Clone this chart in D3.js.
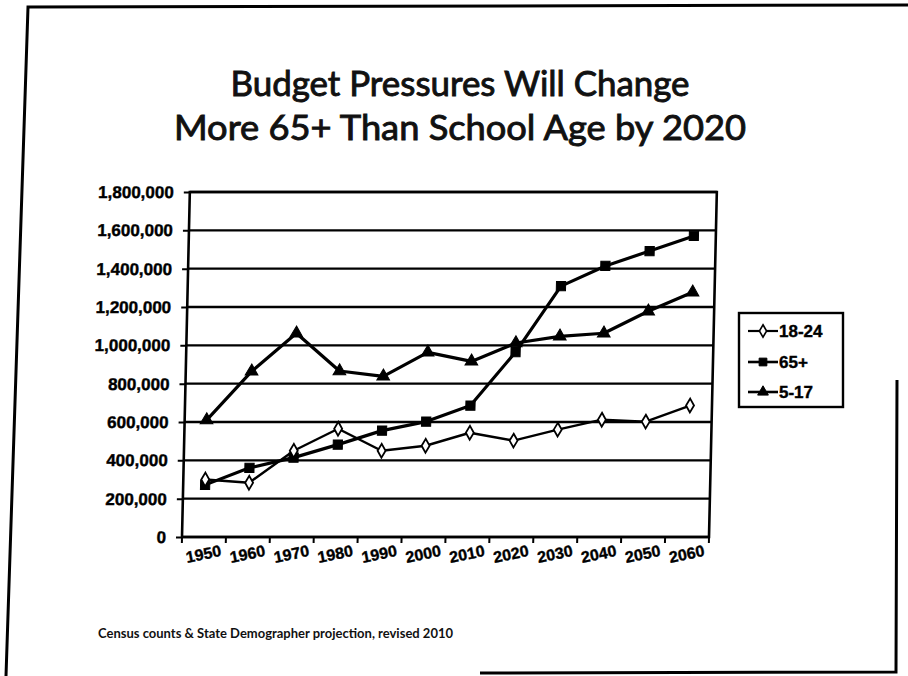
<!DOCTYPE html>
<html><head><meta charset="utf-8">
<script src="https://cdn.jsdelivr.net/npm/d3@7"></script>
<style>body{margin:0;background:#fff}</style>
</head><body>
<svg id="c" width="908" height="676"></svg>
<script>
const years = ["1950","1960","1970","1980","1990","2000","2010","2020","2030","2040","2050","2060"];
const age18_24 = [300000,283000,450000,565000,450000,476000,544000,503000,560000,612000,602000,686000];
const age65plus = [272000,361000,414000,482000,555000,602000,686000,965000,1309000,1414000,1492000,1571000];
const age5_17 = [610000,864000,1063000,866000,838000,963000,916000,1012000,1047000,1063000,1178000,1277000];
const yTicks = [0,200000,400000,600000,800000,1000000,1200000,1400000,1600000,1800000];
const seriesNames = ["18-24","65+","5-17"];
const titleLines = ["Budget Pressures Will Change","More 65+ Than School Age by 2020"];
const footnote = "Census counts & State Demographer projection, revised 2010";

const svg = d3.select("#c");
svg.append("rect").attr("width",908).attr("height",676).attr("fill","#fff");

// page frame (scanned)
const frame = svg.append("g").attr("stroke","#000").attr("stroke-width",3).attr("fill","none");
frame.append("path").attr("d","M6,676 L28,7 L908,5");
frame.append("path").attr("d","M897,380 L896,672 L480,673");

// title
svg.selectAll("text.title").data(titleLines).join("text")
  .attr("class","title")
  .attr("x",460).attr("y",(d,i)=>i===0?96:140)
  .attr("text-anchor","middle")
  .attr("font-family","Lato, 'Open Sans', sans-serif")
  .attr("font-size",34)
  .attr("fill","#111").attr("stroke","#111").attr("stroke-width",0.9)
  .attr("textLength",(d,i)=>i===0?459:572)
  .attr("lengthAdjust","spacingAndGlyphs")
  .text(d=>d);

// footnote
svg.append("text").attr("x",98).attr("y",638)
  .attr("font-family","Lato, 'Open Sans', sans-serif").attr("font-weight","bold")
  .attr("font-size",13).attr("fill","#111")
  .attr("textLength",355).attr("lengthAdjust","spacingAndGlyphs")
  .text(footnote);

const y0 = 537;
const g = svg.append("g").attr("transform",`translate(0,${y0}) skewX(-1.3) translate(0,${-y0})`);

const x = d3.scaleBand().domain(years).range([182,709]).paddingInner(0).paddingOuter(0);
const y = d3.scaleLinear().domain([0,1800000]).range([537,192]);
const [xl,xr] = x.range();

// gridlines
g.append("g").selectAll("line").data(yTicks).join("line")
  .attr("x1",xl).attr("x2",xr).attr("y1",d=>y(d)).attr("y2",d=>y(d))
  .attr("stroke","#000").attr("stroke-width",2.4);

// plot frame
g.append("rect").attr("x",xl).attr("y",y(1800000)).attr("width",xr-xl).attr("height",y(0)-y(1800000))
  .attr("fill","none").attr("stroke","#000").attr("stroke-width",2.6);

// y axis
const yAxis = g.append("g").attr("transform",`translate(${xl},0)`)
  .call(d3.axisLeft(y).tickValues(yTicks).tickSize(6).tickPadding(10).tickFormat(d3.format(",")));
yAxis.select(".domain").remove();
yAxis.selectAll(".tick line").attr("stroke","#000").attr("stroke-width",2);
yAxis.selectAll(".tick text").attr("font-family","'Liberation Sans', Arial, sans-serif")
  .attr("font-weight","bold").attr("font-size",17).attr("fill","#000")
  .attr("stroke","#000").attr("stroke-width",0.4);

// x axis ticks at category boundaries
const bounds = d3.range(years.length+1).map(i=>xl+i*x.step());
g.append("g").selectAll("line").data(bounds).join("line")
  .attr("x1",d=>d).attr("x2",d=>d).attr("y1",y(0)).attr("y2",y(0)+6)
  .attr("stroke","#000").attr("stroke-width",2);
g.append("g").selectAll("text").data(years).join("text")
  .attr("transform",d=>`translate(${x(d)+x.bandwidth()/2},${y(0)+17}) rotate(-12)`)
  .attr("text-anchor","middle").attr("dominant-baseline","central")
  .attr("font-family","'Liberation Sans', Arial, sans-serif").attr("font-weight","bold")
  .attr("font-size",16).attr("fill","#000").attr("stroke","#000").attr("stroke-width",0.4)
  .text(d=>d);

const cx = d => x(d)+x.bandwidth()/2;
const line = d3.line().x(d=>cx(d.year)).y(d=>y(d.v));
const mk = arr => years.map((yr,i)=>({year:yr,v:arr[i]}));

const series = [
  {name:seriesNames[1], data:mk(age65plus), sym:d3.symbolSquare, size:85, fill:"#000", w:3.2},
  {name:seriesNames[2], data:mk(age5_17), sym:d3.symbolTriangle, size:70, fill:"#000", w:3.2},
  {name:seriesNames[0], data:mk(age18_24), sym:d3.symbolDiamond, size:55, fill:"#fff", w:2.4}
];

series.forEach(s=>{
  g.append("path").datum(s.data).attr("d",line).attr("fill","none")
    .attr("stroke","#000").attr("stroke-width",s.w).attr("stroke-linejoin","round");
  g.append("g").selectAll("path").data(s.data).join("path")
    .attr("transform",d=>`translate(${cx(d.year)},${y(d.v)})`)
    .attr("d",d3.symbol().type(s.sym).size(s.size))
    .attr("fill",s.fill).attr("stroke","#000").attr("stroke-width",s.fill==="#fff"?1.8:1);
});

// legend
const lg = svg.append("g");
lg.append("rect").attr("x",739).attr("y",313).attr("width",104).attr("height",94)
  .attr("fill","#fff").attr("stroke","#000").attr("stroke-width",2.4);
const legendItems = [
  {name:seriesNames[0], sym:d3.symbolDiamond, size:45, fill:"#fff", w:2.2},
  {name:seriesNames[1], sym:d3.symbolSquare, size:60, fill:"#000", w:2.6},
  {name:seriesNames[2], sym:d3.symbolTriangle, size:50, fill:"#000", w:2.6}
];
const ly = [331,362,392];
legendItems.forEach((it,i)=>{
  lg.append("line").attr("x1",748).attr("x2",778).attr("y1",ly[i]).attr("y2",ly[i])
    .attr("stroke","#000").attr("stroke-width",it.w);
  lg.append("path").attr("transform",`translate(763,${ly[i]})`)
    .attr("d",d3.symbol().type(it.sym).size(it.size))
    .attr("fill",it.fill).attr("stroke","#000").attr("stroke-width",it.fill==="#fff"?1.6:1);
  lg.append("text").attr("x",779).attr("y",ly[i]).attr("dominant-baseline","central")
    .attr("font-family","'Liberation Sans', Arial, sans-serif").attr("font-weight","bold")
    .attr("font-size",17).attr("fill","#000").attr("stroke","#000").attr("stroke-width",0.4)
    .text(it.name);
});
</script>
</body></html>
